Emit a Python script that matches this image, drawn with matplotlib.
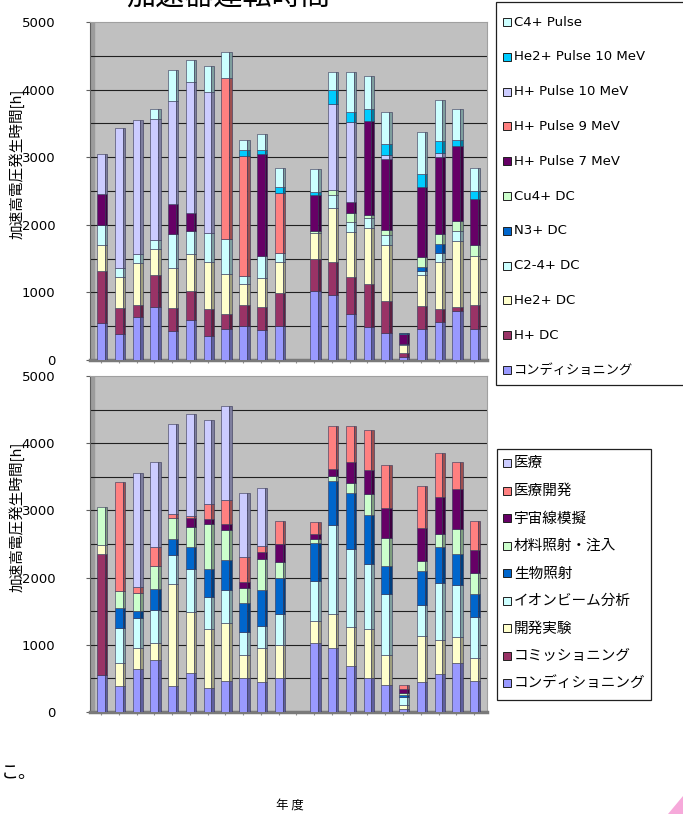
import numpy as np
import matplotlib.pyplot as plt
from matplotlib.patches import Rectangle, Polygon
from matplotlib.colors import to_rgb

plt.rcParams['font.family'] = ['Noto Sans CJK JP', 'DejaVu Sans']
plt.rcParams['ytick.major.pad'] = 22

# 22 fiscal-year slots, slot 12 has no operation
n_slots = 22

# Upper chart: hours by ion species / beam mode (stacking order, bottom first)
ion_labels = ['コンディショニング', 'H+ DC', 'He2+ DC', 'C2-4+ DC', 'N3+ DC', 'Cu4+ DC',
              'H+ Pulse 7 MeV', 'H+ Pulse 9 MeV', 'H+ Pulse 10 MeV',
              'He2+ Pulse 10 MeV', 'C4+ Pulse']
cond_t = [545, 390, 635, 780, 430, 585, 355, 455, 505, 445, 505, 0, 1020, 955, 680, 495, 395, 40, 455, 555, 730, 460]
h_dc = [770, 385, 180, 480, 345, 440, 400, 225, 310, 345, 485, 0, 475, 495, 550, 625, 480, 60, 350, 200, 60, 355]
he_dc = [385, 455, 615, 380, 590, 550, 700, 590, 305, 420, 465, 0, 380, 800, 665, 830, 830, 125, 455, 700, 970, 725]
c24_dc = [295, 125, 140, 140, 495, 340, 420, 515, 130, 330, 135, 0, 0, 195, 150, 145, 150, 15, 60, 125, 150, 0]
n3_dc = [0, 0, 0, 0, 0, 0, 0, 0, 0, 0, 0, 0, 0, 0, 0, 0, 0, 0, 55, 135, 0, 0]
cu_dc = [0, 0, 0, 0, 0, 0, 0, 0, 0, 0, 0, 0, 40, 75, 135, 50, 75, 0, 155, 150, 150, 165]
h_p7 = [460, 0, 0, 0, 445, 260, 0, 0, 0, 1500, 0, 0, 520, 0, 150, 1395, 1050, 140, 1035, 1140, 1100, 680]
h_p9 = [0, 0, 0, 0, 0, 0, 0, 2390, 1775, 0, 880, 0, 0, 0, 0, 0, 0, 0, 0, 0, 0, 0]
h_p10 = [590, 2070, 1985, 1790, 1530, 1940, 2095, 0, 0, 0, 0, 0, 0, 1260, 1190, 0, 50, 0, 0, 50, 0, 0]
he_p10 = [0, 0, 0, 0, 0, 0, 0, 0, 75, 65, 85, 0, 45, 220, 145, 180, 160, 15, 190, 190, 100, 120]
c4_pulse = [0, 0, 0, 150, 450, 320, 375, 375, 155, 235, 285, 0, 340, 260, 590, 480, 480, 10, 615, 605, 455, 340]

# Lower chart: hours by purpose (stacking order, bottom first)
use_labels = ['コンディショニング', 'コミッショニング', '開発実験', 'イオンビーム分析',
              '生物照射', '材料照射・注入', '宇宙線模擬', '医療開発', '医療']
cond_b = [550, 390, 635, 780, 380, 585, 355, 455, 505, 450, 505, 0, 1020, 955, 685, 500, 400, 40, 450, 560, 730, 460]
commission = [1795, 0, 0, 0, 0, 0, 0, 0, 0, 0, 0, 0, 0, 0, 0, 0, 0, 0, 0, 0, 0, 0]
develop = [140, 345, 315, 240, 1520, 900, 875, 865, 345, 495, 490, 0, 335, 500, 575, 730, 445, 60, 685, 510, 390, 350]
ion_beam = [0, 520, 455, 505, 435, 640, 475, 495, 345, 335, 470, 0, 600, 1325, 1165, 970, 910, 120, 455, 845, 770, 610]
bio = [0, 300, 105, 300, 235, 335, 430, 445, 420, 530, 530, 0, 565, 660, 840, 730, 415, 30, 505, 535, 455, 335]
material = [560, 250, 260, 345, 310, 295, 660, 455, 225, 460, 240, 0, 55, 75, 140, 310, 415, 40, 150, 200, 385, 315]
cosmic = [0, 0, 0, 0, 0, 125, 75, 90, 90, 110, 265, 0, 75, 95, 310, 365, 455, 45, 500, 555, 595, 345]
med_dev = [0, 1620, 90, 290, 65, 40, 225, 355, 370, 90, 340, 0, 170, 650, 540, 595, 630, 70, 625, 645, 390, 430]
medical = [0, 0, 1695, 1260, 1340, 1515, 1250, 1390, 955, 870, 0, 0, 0, 0, 0, 0, 0, 0, 0, 0, 0, 0]

ion_series = [cond_t, h_dc, he_dc, c24_dc, n3_dc, cu_dc, h_p7, h_p9, h_p10, he_p10, c4_pulse]
ion_colors = ['#9999FF', '#993366', '#FFFFCC', '#CCFFFF', '#0066CC', '#CCFFCC',
              '#660066', '#FF8080', '#CCCCFF', '#00CCFF', '#CCFFFF']
use_series = [cond_b, commission, develop, ion_beam, bio, material, cosmic, med_dev, medical]
use_colors = ['#9999FF', '#993366', '#FFFFCC', '#CCFFFF', '#0066CC', '#CCFFCC',
              '#660066', '#FF8080', '#CCCCFF']

W, H = 683, 814
fig = plt.figure(figsize=(W / 100, H / 100), dpi=100)


def darker(c, f=0.62):
    r, g, b = to_rgb(c)
    return (r * f, g * f, b * f)


def stacked_chart(ax, series, colors):
    """Stacked bars with a darker side face for an Excel-like 3D look."""
    x = np.arange(n_slots)
    bottom = np.zeros(n_slots)
    for vals, c in zip(series, colors):
        vals = np.array(vals, dtype=float)
        m = vals > 0
        ax.bar(x[m], vals[m], 0.44, bottom=bottom[m], color=c,
               edgecolor='#333355', linewidth=0.4, zorder=3)
        ax.bar(x[m] + 0.29, vals[m], 0.14, bottom=bottom[m], color=darker(c),
               edgecolor='#333355', linewidth=0.4, zorder=3)
        bottom += vals

    # back wall, side wall and floor
    ax.set_facecolor('#C0C0C0')
    ax.axvspan(-0.62, -0.42, color='#9C9C9C', zorder=1)
    for v in np.arange(500, 5000, 500):
        ax.axhline(v, color='#202020', linewidth=0.8, zorder=2)
    ax.set_xlim(-0.62, 21.73)
    ax.set_ylim(0, 5000)
    ax.set_yticks(np.arange(0, 5001, 1000))
    ax.set_yticklabels([str(v) for v in range(0, 5001, 1000)],
                       family='DejaVu Sans', fontsize=9.5)
    ax.set_xticks(x)
    ax.set_xticklabels([])
    ax.tick_params(axis='x', length=2, color='#909090', width=0.8)
    ax.tick_params(axis='y', length=3, color='#606060')
    for s in ['top', 'right']:
        ax.spines[s].set_color('#A0A0A0')
    ax.spines['left'].set_color('#606060')
    ax.spines['bottom'].set_color('#7A7A7A')
    ax.spines['bottom'].set_linewidth(2.5)
    ax.set_ylabel('加速高電圧発生時間[h]', fontsize=10.5)


def legend_box(labels, colors, x0, y_first, dy, box, fontsize):
    """Legend drawn entry by entry in pixel positions (top-left origin)."""
    bx, by, bw, bh = box
    fig.patches.append(Rectangle((bx / W, 1 - (by + bh) / H), bw / W, bh / H,
                                 transform=fig.transFigure, facecolor='white',
                                 edgecolor='#202020', linewidth=0.9, zorder=5))
    for i, (lab, c) in enumerate(zip(labels, colors)):
        yc = y_first + i * dy
        fig.patches.append(Rectangle((x0 / W, 1 - (yc + 4) / H), 8 / W, 8 / H,
                                     transform=fig.transFigure, facecolor=c,
                                     edgecolor='#202020', linewidth=0.7, zorder=6))
        fig.text((x0 + 11) / W, 1 - yc / H, lab, fontsize=fontsize,
                 family=['DejaVu Sans', 'Noto Sans CJK JP'],
                 va='center', ha='left', zorder=7)


# Upper chart: by ion species
ax1 = fig.add_axes([90 / W, 1 - 360 / H, 397 / W, 338 / H])
stacked_chart(ax1, ion_series, ion_colors)
ax1.yaxis.set_label_coords(-0.164, 0.58)

# Lower chart: by purpose
ax2 = fig.add_axes([90 / W, 1 - 712 / H, 397 / W, 336 / H])
stacked_chart(ax2, use_series, use_colors)
ax2.yaxis.set_label_coords(-0.164, 0.58)

legend_box(ion_labels[::-1], ion_colors[::-1], 503, 22, 34.8,
           (496, 2, 200, 383), 9.5)
legend_box(use_labels[::-1], use_colors[::-1], 503, 463, 27.5,
           (497, 449, 154, 251), 10.5)

fig.text(228 / W, 1 + 2 / H, '加速器運転時間', fontsize=21, ha='center', va='center')
fig.text(290 / W, 1 - 805 / H, '年 度', fontsize=9, ha='center', va='center')
fig.text(1 / W, 1 - 773 / H, 'こ。', fontsize=13, ha='left', va='center')

# small pink corner mark
fig.patches.append(Polygon([(668 / W, 0), (1, 0), (1, 18 / H)], closed=True,
                           transform=fig.transFigure, facecolor='#F6A9DA',
                           edgecolor='none'))

fig.savefig('out.png', dpi=100)
